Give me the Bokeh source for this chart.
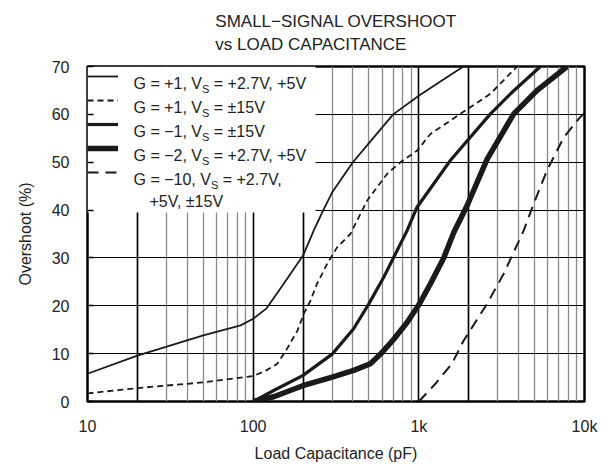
from bokeh.plotting import figure
from bokeh.models import FixedTicker, Grid, Legend, LegendItem, Label, Title, BoxAnnotation
from bokeh.embed import file_html
from bokeh.resources import INLINE

# ---------------- data ----------------
# G = +1, VS = +2.7V, +5V
c_g1_low = [10, 20, 50, 84, 100, 120, 150, 200, 232, 265, 300, 400, 500, 700, 1000, 1500, 1860]
os_g1_low = [5.8, 9.6, 13.8, 15.9, 17.3, 19.4, 24.2, 30.5, 35.7, 40.0, 43.7, 50.0, 54.0, 60.0, 63.9, 67.9, 70.0]
# G = +1, VS = ±15V
c_g1_15 = [10, 20, 50, 100, 120, 140, 160, 185, 202, 222, 243, 280, 321, 386, 488, 644, 775, 975, 1175, 1782, 2705, 3917]
os_g1_15 = [1.7, 2.8, 4.0, 5.3, 6.5, 7.9, 11.0, 14.8, 18.3, 21.1, 24.6, 28.8, 32.2, 35.0, 42.0, 47.6, 50.0, 52.4, 55.9, 60.1, 64.3, 70.0]
# G = -1, VS = ±15V
c_gm1 = [100, 133, 199, 300, 404, 499, 615, 849, 975, 1553, 2705, 3573, 5419]
os_gm1 = [0.0, 2.3, 5.4, 9.9, 15.2, 20.4, 26.0, 35.7, 40.6, 50.4, 60.1, 64.3, 70.0]
# G = -2, VS = +2.7V, +5V
c_gm2 = [100, 133, 199, 300, 404, 510, 587, 706, 849, 1000, 1175, 1413, 1625, 1960, 2580, 3740, 5176, 7850]
os_gm2 = [0.0, 1.0, 3.3, 5.1, 6.5, 7.9, 9.9, 13.0, 16.5, 20.2, 24.6, 30.0, 35.3, 41.0, 50.6, 60.1, 65.0, 70.0]
# G = -10, VS = +2.7V, +5V, ±15V
c_gm10 = [1000, 1259, 1585, 1862, 2580, 3253, 4293, 4932, 5940, 7498, 9248, 10000]
os_gm10 = [0.0, 3.7, 7.9, 12.7, 20.4, 26.7, 35.7, 41.3, 48.3, 55.2, 59.1, 60.3]

x_major = [10, 100, 1000, 10000]
x_major_labels = ["10", "100", "1k", "10k"]
x_minor = [m * d for d in (10, 100, 1000) for m in range(2, 10)]
x_bold_minor = [20, 200, 2000]
y_ticks = [0, 10, 20, 30, 40, 50, 60, 70]

title_text = "SMALL\u2212SIGNAL OVERSHOOT\nvs LOAD CAPACITANCE"
x_label = "Load Capacitance (pF)"
y_label = "Overshoot (%)"

# each legend row: text before the subscript, subscript, text after it
legend_rows = [
    ("G = +1, V", "S", "= +2.7V, +5V"),
    ("G = +1, V", "S", "= \u00b115V"),
    ("G = \u22121, V", "S", "= \u00b115V"),
    ("G = \u22122, V", "S", "= +2.7V, +5V"),
    ("G = \u221210, V", "S", "= +2.7V,"),
]
legend_cont = "+5V, \u00b115V"

# ---------------- styling ----------------
FONT = "Liberation Sans"
INK = "#1a1a1a"
TXT = "#222222"
FW, FH = 497, 335

p = figure(x_axis_type="log", x_range=(10, 10000), y_range=(0, 70),
           frame_width=FW, frame_height=FH,
           min_border_left=87, min_border_right=25, min_border_top=66, min_border_bottom=69,
           output_backend="svg", toolbar_location=None, title=None)
p.background_fill_color = "white"
p.border_fill_color = "white"
p.outline_line_color = "black"
p.outline_line_width = 2.5

# x axis
p.xaxis.ticker = FixedTicker(ticks=x_major, minor_ticks=x_minor)
p.xaxis.major_label_overrides = dict(zip(x_major, x_major_labels))
p.xaxis.major_tick_out = 0
p.xaxis.major_tick_in = 0
p.xaxis.minor_tick_out = 0
p.xaxis.minor_tick_in = 0
p.xaxis.axis_line_color = None
p.xaxis.major_label_standoff = 16
p.xaxis.axis_label = x_label
p.xaxis.axis_label_standoff = 7

# y axis
p.yaxis.ticker = FixedTicker(ticks=y_ticks)
p.yaxis.major_tick_out = 0
p.yaxis.major_tick_in = 6
p.yaxis.major_tick_line_width = 1.5
p.yaxis.major_tick_line_color = "black"
p.yaxis.minor_tick_out = 0
p.yaxis.minor_tick_in = 0
p.yaxis.axis_line_color = None
p.yaxis.major_label_standoff = 18
p.yaxis.axis_label = y_label
p.yaxis.axis_label_standoff = 15

for ax in (p.xaxis[0], p.yaxis[0]):
    ax.major_label_text_font = FONT
    ax.major_label_text_font_size = "16px"
    ax.major_label_text_color = TXT
    ax.axis_label_text_font = FONT
    ax.axis_label_text_font_size = "16px"
    ax.axis_label_text_font_style = "normal"
    ax.axis_label_text_color = TXT

# grids
p.xgrid.grid_line_color = "black"
p.xgrid.grid_line_width = 1.6
p.xgrid.minor_grid_line_color = "#8a8a8a"
p.xgrid.minor_grid_line_width = 1.3
p.ygrid.grid_line_color = "black"
p.ygrid.grid_line_width = 1.1
p.add_layout(Grid(dimension=0, ticker=FixedTicker(ticks=x_bold_minor),
                  grid_line_color="black", grid_line_width=1.6), "center")

# white area behind the legend (covers grid lines, under the curves)
p.add_layout(BoxAnnotation(left=0, right=228, bottom=FH - 146, top=FH,
                           left_units="screen", right_units="screen",
                           bottom_units="screen", top_units="screen",
                           fill_color="white", fill_alpha=1.0, line_color=None,
                           level="underlay"), "center")

# curves
r1 = p.line(c_g1_low, os_g1_low, line_color=INK, line_width=1.8)
r2 = p.line(c_g1_15, os_g1_15, line_color=INK, line_width=1.8, line_dash="6 4")
r3 = p.line(c_gm1, os_gm1, line_color=INK, line_width=3.2)
r4 = p.line(c_gm2, os_gm2, line_color=INK, line_width=5.5)
r5 = p.line(c_gm10, os_gm10, line_color=INK, line_width=2.0, line_dash="11 7")

legend = Legend(items=[LegendItem(label=" ", renderers=[r]) for r in (r1, r2, r3, r4, r5)],
                location="top_left", margin=0, padding=5, spacing=4,
                glyph_width=31, glyph_height=20, label_height=20, label_width=60,
                label_standoff=10, label_text_font_size="10px",
                border_line_color=None, background_fill_alpha=0.0)
p.add_layout(legend, "center")

# legend texts with subscript S (Liberation Sans advance widths, per 1000 em)
ADV = {'G': 778, ' ': 278, '=': 584, '+': 584, '\u2212': 584, '\u00b1': 584, '0': 556, '1': 556,
       '2': 556, '5': 556, '7': 556, ',': 278, '.': 278, 'V': 667, 'S': 667}


def text_w(s, size):
    return sum(ADV.get(ch, 556) for ch in s) * size / 1000.0


LFS = 16.0
SFS = 11.0
SUB_DROP = 5.5
x0 = 5 + 31 + 10


def add_text(x, y, s, size):
    p.add_layout(Label(x=x, y=y, x_units="screen", y_units="screen", text=s,
                       text_font=FONT, text_font_size=f"{size}px", text_color=TXT,
                       text_baseline="alphabetic"))


for i, (a, sub, b) in enumerate(legend_rows):
    base = FH - (11 + 24 * i) - 0.358 * LFS
    wa = text_w(a, LFS)
    ws = text_w(sub, SFS)
    add_text(x0, base, a, LFS)
    add_text(x0 + wa, base - SUB_DROP, sub, SFS)
    add_text(x0 + wa + ws + text_w(" ", LFS), base, b, LFS)
add_text(x0 + 16, FH - (11 + 24 * 4 + 22) - 0.358 * LFS, legend_cont, LFS)

# two-line title
p.add_layout(Title(text=title_text, align="center", vertical_align="top",
                   text_font=FONT, text_font_size="17px",
                   text_font_style="normal", text_color=TXT, text_line_height=1.22,
                   standoff=21), "above")

open("out.html", "w").write(file_html(p, INLINE))
